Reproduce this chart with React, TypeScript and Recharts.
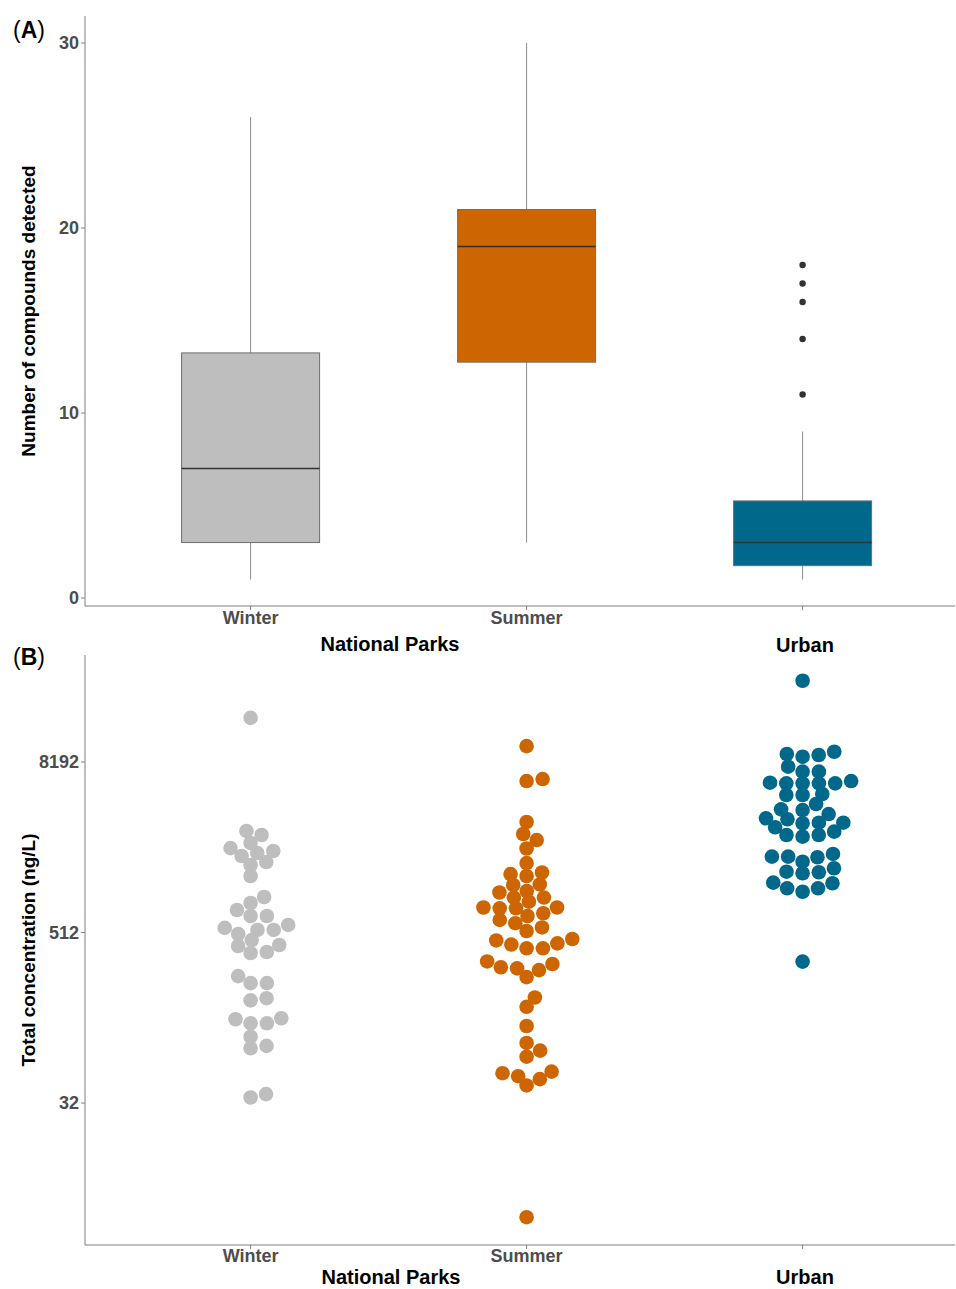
import React from "react";
import { ComposedChart, ScatterChart, Bar, Scatter, XAxis, YAxis } from "recharts";

const seasons = ["Winter", "Summer", "Urban"];
const colors = ["#BEBEBE", "#CD6600", "#00688B"];

// (A) number of compounds detected – box plot summaries
const whiskerLow = [1, 3, 1];
const quart1 = [3, 12.75, 1.75];
const medians = [7, 19, 3];
const quart3 = [13.25, 21, 5.25];
const whiskerHigh = [26, 30, 9];
const urbanOutliers = [11, 14, 16, 17, 18];

// (B) total concentration, ng/L
const winterConc = [
  16800, 2670, 2500, 2195, 2020, 1927, 1865, 1776, 1610, 1534, 1283, 912, 827, 738, 670, 670,
  579, 552, 534, 534, 500, 453, 418, 411, 373, 367, 252, 225, 225, 176, 170, 127, 125, 117, 117,
  94, 81, 78, 37, 35,
];
const summerConc = [
  10600, 6010, 6210, 3090, 2540, 2302, 2006, 1584, 1325, 1359, 1283, 1109, 1119, 981, 1006, 904,
  904, 845, 769, 769, 759, 759, 628, 670, 700, 596, 556, 525, 450, 421, 396, 396, 429, 461, 320,
  291, 286, 248, 278, 307, 178, 153, 112, 85, 75, 68, 52, 49.5, 42.6, 47.2, 53.3, 5,
];
const urbanConc = [
  30700, 9680, 9330, 9180, 8930, 7590, 7000, 7000, 6010, 5850, 5790, 5790, 5790, 5790, 4870,
  4790, 4790, 4140, 3795, 3750, 3515, 3280, 3228, 3054, 3054, 3025, 2835, 2640, 2500, 2500, 2434,
  1837, 1758, 1758, 1741, 1620, 1456, 1377, 1364, 1342, 1152, 1141, 1051, 1051, 994, 319,
];
const concTicks = [32, 512, 8192];

const FONT = "'Liberation Sans', Arial, Helvetica, sans-serif";
const AXIS = "#7f7f7f";
const TICK = { fill: "#4d4d4d", fontSize: 18, fontWeight: 700 };

// beeswarm (ascending priority), a = horizontal spacing, b = vertical spacing
function swarm(vals: number[], a: number, b: number): number[] {
  const order = vals.map((_, i) => i).sort((i, j) => vals[i] - vals[j] || i - j);
  const xs = new Array(vals.length).fill(0);
  const placed: number[] = [];
  for (const i of order) {
    const near = placed.filter((j) => Math.abs(vals[j] - vals[i]) < b);
    const cands = [0];
    near.forEach((j) => {
      const dy = (vals[j] - vals[i]) / b;
      const dx = a * Math.sqrt(1 - dy * dy);
      cands.push(xs[j] + dx, xs[j] - dx);
    });
    cands.sort((p, q) => {
      const d = Math.abs(p) - Math.abs(q);
      return Math.abs(d) > 1e-9 ? d : q - p;
    });
    const ok = cands.find((c) =>
      near.every((j) => ((xs[j] - c) / a) ** 2 + ((vals[j] - vals[i]) / b) ** 2 >= 1 - 1e-6)
    );
    xs[i] = ok ?? 0;
    placed.push(i);
  }
  return xs;
}

const boxRows = seasons.map((s, i) => ({
  season: s,
  lo: whiskerLow[i],
  q1: quart1[i],
  med: medians[i],
  q3: quart3[i],
  hi: whiskerHigh[i],
  color: colors[i],
}));
const outlierRows = urbanOutliers.map((n) => ({ season: "Urban", n }));

const concGroups = [winterConc, summerConc, urbanConc].map((vals, gi) => {
  const logs = vals.map((v) => Math.log2(v));
  const offs = swarm(logs, 16.3 / 276, 10.8 / 42.63);
  return logs.map((y, k) => ({ x: gi + 1 + offs[k], y }));
});

// only the park seasons get a tick label, "Urban" sits below as a group title
const tickName = (s: string) => (s === "Urban" ? "" : s);

const BoxShape = (props: any) => {
  const { x, y, width, height, payload } = props;
  const top = Math.min(y, y + height);
  const h = Math.abs(height);
  const py = (v: number) => top + (h * (payload.hi - v)) / (payload.hi - payload.lo);
  const cx = x + width / 2;
  return (
    <g>
      <line x1={cx} x2={cx} y1={py(payload.hi)} y2={py(payload.lo)} stroke="#8c8c8c" strokeWidth={1} />
      <rect
        x={x}
        y={py(payload.q3)}
        width={width}
        height={py(payload.q1) - py(payload.q3)}
        fill={payload.color}
        stroke="#6e6e6e"
        strokeWidth={1}
      />
      <line x1={x} x2={x + width} y1={py(payload.med)} y2={py(payload.med)} stroke="#333" strokeWidth={1.4} />
    </g>
  );
};

const Outlier = (p: any) => <circle cx={p.cx} cy={p.cy} r={3.2} fill="#333" />;

const dot = (color: string) => (p: any) => <circle cx={p.cx} cy={p.cy} r={7.3} fill={color} />;

export default function App() {
  return (
    <div
      style={{
        position: "absolute",
        left: 0,
        top: 0,
        width: 956,
        height: 1289,
        background: "#fff",
        fontFamily: FONT,
        overflow: "hidden",
      }}
    >
      <div style={{ position: "absolute", left: 0, top: 0 }}>
        <ComposedChart width={956} height={650} data={boxRows} margin={{ top: 16, right: 1, bottom: 0, left: 0 }}>
          <XAxis
            dataKey="season"
            allowDuplicatedCategory={false}
            padding={{ left: 27.6, right: 14.4 }}
            height={44}
            stroke={AXIS}
            tickSize={4}
            tickMargin={1}
            tick={TICK}
            tickFormatter={tickName}
            interval={0}
          />
          <YAxis
            type="number"
            width={85}
            domain={[-0.43, 31.46]}
            allowDataOverflow
            ticks={[0, 10, 20, 30]}
            stroke={AXIS}
            tickSize={4}
            tickMargin={2}
            tick={TICK}
          />
          <Bar dataKey={(d: any) => [d.lo, d.hi]} barSize={138} shape={BoxShape} isAnimationActive={false} />
          <Scatter data={outlierRows} dataKey="n" shape={Outlier} isAnimationActive={false} />
        </ComposedChart>
      </div>

      <div style={{ position: "absolute", left: 0, top: 650 }}>
        <ScatterChart width={956} height={639} margin={{ top: 5, right: 1, bottom: 0, left: 0 }}>
          <XAxis
            type="number"
            dataKey="x"
            domain={[0.4, 0.4 + 870 / 276]}
            allowDataOverflow
            ticks={[1, 2, 3]}
            tickFormatter={(v: number) => tickName(seasons[v - 1])}
            height={44}
            stroke={AXIS}
            tickSize={4}
            tickMargin={0}
            tick={TICK}
            interval={0}
          />
          <YAxis
            type="number"
            dataKey="y"
            width={85}
            domain={[1.67, 15.51]}
            allowDataOverflow
            ticks={concTicks.map((t) => Math.log2(t))}
            tickFormatter={(v: number) => String(Math.round(2 ** v))}
            stroke={AXIS}
            tickSize={4}
            tickMargin={2}
            tick={TICK}
          />
          {concGroups.map((pts, gi) => (
            <Scatter key={seasons[gi]} data={pts} shape={dot(colors[gi])} isAnimationActive={false} />
          ))}
        </ScatterChart>
      </div>

      <svg
        width={956}
        height={1289}
        style={{ position: "absolute", left: 0, top: 0, pointerEvents: "none" }}
        fontFamily={FONT}
      >
        <text x={13} y={38} fontSize={23} fill="#000">
          (<tspan fontWeight={700}>A</tspan>)
        </text>
        <text x={13} y={665} fontSize={23} fill="#000">
          (<tspan fontWeight={700}>B</tspan>)
        </text>
        <text x={35} y={311} fontSize={19} fontWeight={700} textAnchor="middle" transform="rotate(-90 35 311)">
          Number of compounds detected
        </text>
        <text x={35} y={950} fontSize={19} fontWeight={700} textAnchor="middle" transform="rotate(-90 35 950)">
          Total concentration (ng/L)
        </text>
        <text x={390} y={651} fontSize={20} fontWeight={700} textAnchor="middle">
          National Parks
        </text>
        <text x={805} y={652} fontSize={20} fontWeight={700} textAnchor="middle">
          Urban
        </text>
        <text x={391} y={1284} fontSize={20} fontWeight={700} textAnchor="middle">
          National Parks
        </text>
        <text x={805} y={1284} fontSize={20} fontWeight={700} textAnchor="middle">
          Urban
        </text>
      </svg>
    </div>
  );
}
